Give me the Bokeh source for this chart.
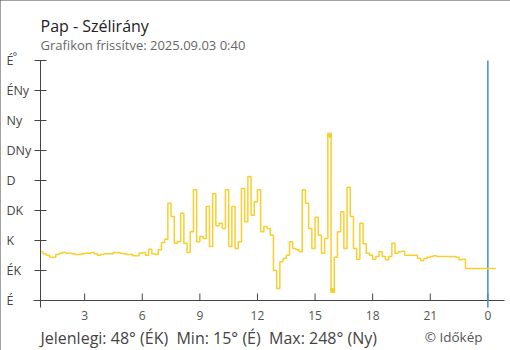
import numpy as np
from bokeh.plotting import figure
from bokeh.models import Range1d, Label
from bokeh.core.properties import value
from bokeh.embed import file_html
from bokeh.resources import INLINE

# ---------------- data ----------------
title_text = "Pap - Szélirány"
subtitle_text = "Grafikon frissítve: 2025.09.03 0:40"
footer_text = "Jelenlegi: 48° (ÉK)\u00a0 Min: 15° (É)\u00a0 Max: 248° (Ny)"
credit_text = "© Időkép"

start_hour = 0.75          # first reading 0:45 of previous day
step_hours = 1.0 / 6.0     # one reading every 10 minutes

direction_deg = [
    73, 70, 68, 65, 65, 69, 71, 72, 71, 71,
    70, 69, 69, 70, 71, 71, 72, 70, 68, 69,
    70, 70, 70, 72, 72, 71, 70, 69, 69, 67,
    67, 71, 72, 68, 77, 70, 69, 76, 87, 92,
    146, 126, 86, 88, 131, 86, 72, 103, 166, 88,
    96, 93, 141, 81, 160, 112, 116, 108, 166, 81,
    141, 78, 88, 168, 118, 186, 128, 148, 166, 103,
    111, 108, 98, 45, 18, 58, 63, 68, 88, 78,
    76, 73, 166, 146, 108, 78, 125, 98, 71, 93,
    248, 15, 65, 103, 133, 78, 170, 126, 78, 62,
    116, 85, 71, 68, 62, 66, 73, 66, 61, 66,
    86, 71, 73, 74, 68, 68, 68, 68, 63, 60,
    63, 65, 66, 67, 66, 66, 66, 66, 66, 66,
    65, 61, 62, 48, 48, 48, 48, 48, 48, 48,
    48, 48, 48,
]
hours = start_hour + step_hours * np.arange(len(direction_deg))

dir_ticks = [0, 45, 90, 135, 180, 225, 270, 315, 360]
dir_labels = ["É", "ÉK", "K", "DK", "D", "DNy", "Ny", "ÉNy", "É"]
hour_ticks = [3, 6, 9, 12, 15, 18, 21, 24]
hour_labels = ["3", "6", "9", "12", "15", "18", "21", "0"]
midnight = 24

# ---------------- layout helpers (page pixels -> data) ----------------
FONT = "Open Sans"
W, H = 510, 350
PX_PER_H = 19.2
PX_PER_DEG = 1 / 1.5
X_AXIS_H = 0.70            # hour at which the y axis stands
X0_PAGE = 40.0             # page x of the y axis
Y0_PAGE = 300.0            # page y of 0 degrees
AXIS_COLOR = "#444444"


def hx(page_x):
    return X_AXIS_H + (page_x - X0_PAGE) / PX_PER_H


def dy(page_y):
    return (Y0_PAGE - page_y) / PX_PER_DEG


p = figure(
    width=W, height=H,
    x_range=Range1d(hx(0), hx(W)),
    y_range=Range1d(dy(H), dy(0)),
    x_axis_location=None, y_axis_location=None,
    output_backend="svg", toolbar_location=None,
    min_border=0,
)
p.grid.visible = False
p.outline_line_color = None
p.background_fill_color = "white"
p.border_fill_color = "white"
p.styles = {"outline": "1px solid #444444", "outline-offset": "-1px"}

# ---- y axis (direction) ----
p.segment(x0=[X_AXIS_H], y0=[dy(307)], x1=[X_AXIS_H], y1=[max(dir_ticks)],
          line_color=AXIS_COLOR, line_width=1)
p.segment(x0=[hx(34)] * len(dir_ticks), y0=dir_ticks,
          x1=[hx(46)] * len(dir_ticks), y1=dir_ticks,
          line_color=AXIS_COLOR, line_width=1)
p.text(x=[hx(6)] * len(dir_labels), y=dir_ticks, text=dir_labels,
       text_align="left", text_baseline="middle", text_font=value(FONT),
       text_font_size="12.5px", text_color="#444444")

# ---- x axis (hours) ----
p.segment(x0=[hx(33)], y0=[0], x1=[hx(504)], y1=[0],
          line_color=AXIS_COLOR, line_width=1)
p.segment(x0=hour_ticks, y0=[0] * len(hour_ticks),
          x1=hour_ticks, y1=[dy(293)] * len(hour_ticks),
          line_color=AXIS_COLOR, line_width=1)
p.text(x=hour_ticks, y=[dy(315)] * len(hour_ticks), text=hour_labels,
       text_align="center", text_baseline="middle", text_font=value(FONT),
       text_font_size="12px", text_color="#555555")

# ---- midnight marker ----
p.segment(x0=[midnight], y0=[dy(307)], x1=[midnight], y1=[max(dir_ticks)],
          line_color="#3f8fd0", line_width=1.5)

# ---- data ----
line_color = "#f9cf2e"
p.step(hours, direction_deg, mode="center", line_color=line_color, line_width=1.5)

i_max = int(np.argmax(direction_deg))
i_min = int(np.argmin(direction_deg))
p.scatter([hours[i_max], hours[i_min]], [direction_deg[i_max], direction_deg[i_min]],
          marker="square", size=4, color=line_color)

# ---- texts ----
p.add_layout(Label(x=hx(12), y=dy(55), text="°", text_align="left",
                   text_baseline="alphabetic", text_font=FONT,
                   text_font_size="11px", text_color="#444444"))
p.add_layout(Label(x=hx(40), y=dy(25), text=title_text, text_align="left",
                   text_baseline="alphabetic", text_font=FONT,
                   text_font_size="16px", text_color="#222222"))
p.add_layout(Label(x=hx(40), y=dy(44.5), text=subtitle_text, text_align="left",
                   text_baseline="alphabetic", text_font=FONT,
                   text_font_size="13px", text_color="#666666"))
p.add_layout(Label(x=hx(40), y=dy(337.5), text=footer_text, text_align="left",
                   text_baseline="alphabetic", text_font=FONT,
                   text_font_size="16px", text_color="#444444"))
p.add_layout(Label(x=hx(482), y=dy(336), text=credit_text, text_align="right",
                   text_baseline="alphabetic", text_font=FONT,
                   text_font_size="13.5px", text_color="#555555"))

open("out.html", "w").write(file_html(p, INLINE))
